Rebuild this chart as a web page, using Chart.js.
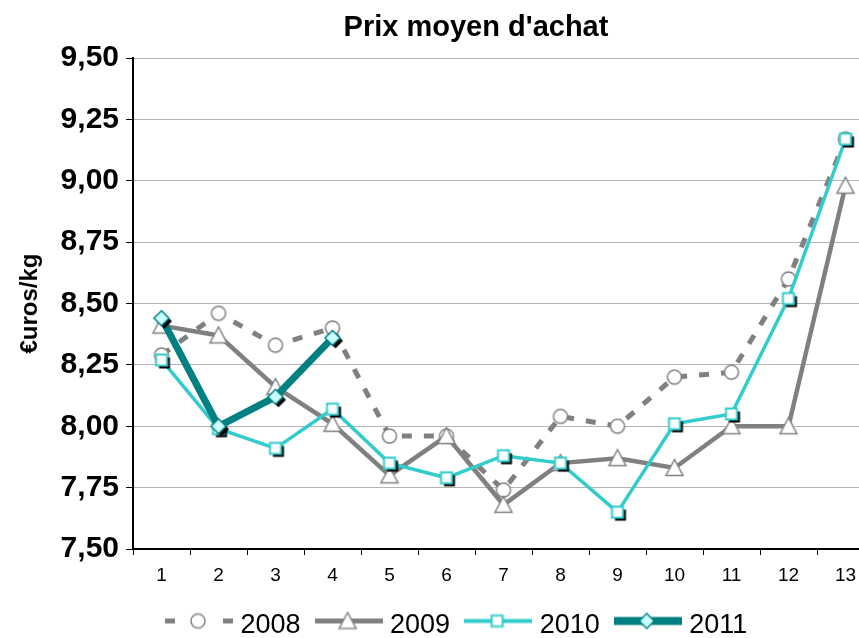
<!DOCTYPE html>
<html>
<head>
<meta charset="utf-8">
<title>Prix moyen d'achat</title>
<script src="https://cdn.jsdelivr.net/npm/chart.js@4.4.1/dist/chart.umd.min.js"></script>
<style>
  html, body { margin: 0; padding: 0; overflow: hidden; background: #fff; }
  #wrap { width: 887px; height: 638px; }
</style>
</head>
<body>
<div id="wrap"><canvas id="chart"></canvas></div>
<script>
// categories (periods) and average purchase price, euros/kg
const periods = ["1", "2", "3", "4", "5", "6", "7", "8", "9", "10", "11", "12", "13"]
const prix2008 = [8.29, 8.46, 8.33, 8.40, 7.96, 7.96, 7.74, 8.04, 8.00, 8.20, 8.22, 8.60, 9.17]
const prix2009 = [8.41, 8.37, 8.16, 8.01, 7.80, 7.96, 7.68, 7.85, 7.87, 7.83, 8.00, 8.00, 8.98]
const prix2010 = [8.27, 7.99, 7.91, 8.07, 7.85, 7.79, 7.88, 7.85, 7.65, 8.01, 8.05, 8.52, 9.17]
const prix2011 = [8.44, 8.00, 8.12, 8.36, null, null, null, null, null, null, null, null, null]
const yTicks = [7.5, 7.75, 8, 8.25, 8.5, 8.75, 9, 9.25, 9.5]

const FONT = '"Liberation Sans", Arial, sans-serif'
Chart.defaults.font.family = FONT
Chart.defaults.color = "#000"

// marker drawn in a small canvas, optional black drop shadow
const makeMarker = (shape, fill, stroke, lw, shadow) => {
  const c = document.createElement("canvas")
  c.width = 28
  c.height = 28
  const ctx = c.getContext("2d")
  const path = (dx, dy) => {
    const x = 14 + dx, y = 14 + dy
    ctx.beginPath()
    if (shape === "circle") {
      ctx.arc(x, y, 7, 0, Math.PI * 2)
    } else if (shape === "triangle") {
      ctx.moveTo(x, y - 8.5)
      ctx.lineTo(x + 8.5, y + 7.5)
      ctx.lineTo(x - 8.5, y + 7.5)
      ctx.closePath()
    } else if (shape === "square") {
      ctx.rect(x - 5.5, y - 5.5, 11, 11)
    } else {
      ctx.moveTo(x, y - 7.5)
      ctx.lineTo(x + 7.5, y)
      ctx.lineTo(x, y + 7.5)
      ctx.lineTo(x - 7.5, y)
      ctx.closePath()
    }
  }
  if (shadow) {
    path(3, 3)
    ctx.fillStyle = "#000"
    ctx.fill()
  }
  path(0, 0)
  ctx.fillStyle = fill
  ctx.fill()
  ctx.lineWidth = lw
  ctx.strokeStyle = stroke
  ctx.stroke()
  return c
}

// legend sample: line with the marker in the middle (sits a bit above text centre)
const makeSample = (color, width, dash, marker) => {
  const c = document.createElement("canvas")
  c.width = 68
  c.height = 30
  const ctx = c.getContext("2d")
  const ly = 10.5
  ctx.strokeStyle = color
  ctx.lineWidth = width
  ctx.setLineDash(dash)
  ctx.beginPath()
  ctx.moveTo(0, ly)
  ctx.lineTo(68, ly)
  ctx.stroke()
  ctx.drawImage(marker, 33 - 14, ly - 14)
  return c
}

const GRAY = "#808080"
const TURQ = "#33cccc"
const TEAL = "#008080"

const samples = [
  makeSample(GRAY, 5, [10, 48], makeMarker("circle", "#fff", GRAY, 1.5, false)),
  makeSample(GRAY, 5, [], makeMarker("triangle", "#fff", GRAY, 1.5, false)),
  makeSample(TURQ, 4, [], makeMarker("square", "#fff", TURQ, 2, false)),
  makeSample(TEAL, 8, [], makeMarker("diamond", "#ccffff", TEAL, 1.5, false)),
]

// move title and legend to where they sit in the original
const placeBoxes = {
  id: "placeBoxes",
  afterLayout(chart) {
    const t = chart.titleBlock
    t.left = 0
    t.right = 952
    const lg = chart.legend
    const h = lg.height
    lg.left = 151
    lg.top = 592
    lg.bottom = 592 + h
  },
}

new Chart(document.getElementById("chart"), {
  type: "line",
  data: {
    labels: periods,
    datasets: [
      {
        label: "2008",
        data: prix2008,
        borderColor: GRAY,
        borderWidth: 5,
        borderDash: [10, 12],
        pointStyle: makeMarker("circle", "#fff", GRAY, 1.5, false),
        order: 4,
      },
      {
        label: "2009",
        data: prix2009,
        borderColor: GRAY,
        borderWidth: 4.5,
        pointStyle: makeMarker("triangle", "#fff", GRAY, 1.5, false),
        order: 3,
      },
      {
        label: "2010",
        data: prix2010,
        borderColor: TURQ,
        borderWidth: 3.5,
        pointStyle: makeMarker("square", "#fff", TURQ, 2, true),
        order: 2,
      },
      {
        label: "2011",
        data: prix2011,
        borderColor: TEAL,
        borderWidth: 7,
        pointStyle: makeMarker("diamond", "#ccffff", TEAL, 1.5, true),
        order: 1,
      },
    ],
  },
  options: {
    responsive: true,
    maintainAspectRatio: false,
    animation: false,
    events: [],
    layout: { padding: { left: 0, right: 6, top: 0, bottom: 0 } },
    elements: {
      line: { tension: 0, fill: false },
      point: { radius: 6 },
    },
    plugins: {
      title: {
        display: true,
        text: "Prix moyen d'achat",
        font: { size: 29, weight: "bold" },
        color: "#000",
        padding: { top: 11, bottom: 12.2 },
      },
      legend: {
        position: "bottom",
        align: "start",
        labels: {
          usePointStyle: true,
          pointStyleWidth: 56,
          padding: 20,
          font: { size: 27 },
          color: "#000",
          sort: (a, b) => a.datasetIndex - b.datasetIndex,
          generateLabels: (chart) => {
            const items = Chart.defaults.plugins.legend.labels.generateLabels(chart)
            return items.map((it) => ({ ...it, pointStyle: samples[it.datasetIndex] }))
          },
        },
      },
      tooltip: { enabled: false },
    },
    scales: {
      x: {
        offset: true,
        grid: {
          offset: true,
          drawOnChartArea: false,
          tickColor: "#000",
          tickLength: 6,
        },
        border: { color: "#000", width: 2 },
        ticks: { font: { size: 19 }, padding: 9, maxRotation: 0 },
        afterFit: (s) => {
          const lh = s.chart.legend ? s.chart.legend.height : 0
          s.height = Math.max(0, 638 - 549 - lh)
        },
      },
      y: {
        min: yTicks[0],
        max: yTicks[yTicks.length - 1],
        afterBuildTicks: (s) => {
          s.ticks = yTicks.map((v) => ({ value: v }))
        },
        grid: { color: "#b3b3b3", lineWidth: 1, tickColor: "#000", tickLength: 7 },
        border: { color: "#000", width: 2 },
        ticks: {
          font: { size: 30, weight: "bold" },
          padding: 7,
          callback: (v) => v.toFixed(2).replace(".", ","),
        },
        title: {
          display: true,
          text: "€uros/kg",
          font: { size: 24, weight: "bold" },
          padding: { top: 16, bottom: 0 },
        },
        afterFit: (s) => {
          s.width = 133
        },
      },
    },
  },
  plugins: [placeBoxes],
})
</script>
</body>
</html>
